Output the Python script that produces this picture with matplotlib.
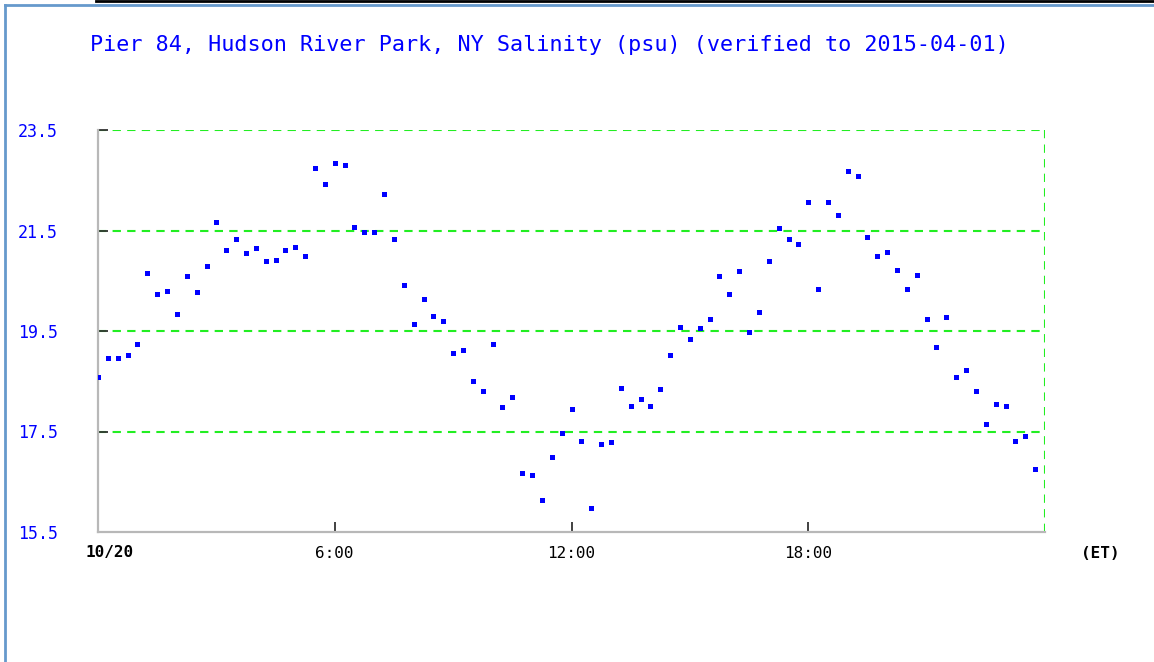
import numpy as np
import matplotlib
matplotlib.use("Agg")
import matplotlib.pyplot as plt
from matplotlib.lines import Line2D

# salinity readings every 15 minutes on 10/20 (psu)
salinity = [
    18.59, 18.96, 18.96, 19.02, 19.25, 20.66, 20.23, 20.29, 19.84, 20.59, 20.27, 20.79,
    21.67, 21.11, 21.34, 21.05, 21.15, 20.89, 20.92, 21.11, 21.18, 20.99, 22.75, 22.42,
    22.85, 22.81, 21.57, 21.47, 21.47, 22.22, 21.34, 20.42, 19.64, 20.13, 19.80, 19.70,
    19.06, 19.12, 18.50, 18.30, 19.25, 17.98, 18.18, 16.67, 16.63, 16.14, 17.00, 17.48,
    17.94, 17.32, 15.98, 17.26, 17.29, 18.37, 18.01, 18.14, 18.01, 18.34, 19.02, 19.58,
    19.35, 19.55, 19.74, 20.59, 20.23, 20.69, 19.48, 19.88, 20.89, 21.54, 21.34, 21.24,
    22.06, 20.33, 22.06, 21.80, 22.68, 22.58, 21.38, 20.99, 21.08, 20.72, 20.33, 20.62,
    19.74, 19.18, 19.77, 18.59, 18.72, 18.30, 17.65, 18.04, 18.01, 17.32, 17.41, 16.76,
]
step_minutes = 15
hours = np.arange(len(salinity)) * step_minutes / 60.0

y_ticks = [15.5, 17.5, 19.5, 21.5, 23.5]
x_ticks = [0, 6, 12, 18]
x_labels = ["10/20", "6:00", "12:00", "18:00"]

title = "Pier 84, Hudson River Park, NY Salinity (psu) (verified to 2015-04-01)"

mono = "DejaVu Sans Mono"
green = "#22ee22"
blue = "#0000ff"

fig = plt.figure(figsize=(11.54, 6.62), dpi=100)
ax = fig.add_axes([98 / 1154, 1 - 532 / 662, 947 / 1154, 402 / 662])

ax.plot(hours, salinity, linestyle="none", marker="s", markersize=3.6,
        color=blue, markeredgewidth=0, zorder=3)

ax.set_xlim(0, 24)
ax.set_ylim(15.5, 23.5)

# green dashed grid + top/right border
for v in y_ticks[1:]:
    ax.axhline(v, color=green, linestyle=(0, (4, 3)), linewidth=1.5, zorder=1)
ax.axvline(24, color=green, linestyle=(0, (4, 3)), linewidth=1.5, zorder=1)

for side in ["top", "right"]:
    ax.spines[side].set_visible(False)
for side in ["left", "bottom"]:
    ax.spines[side].set_color("#b8b8b8")
    ax.spines[side].set_linewidth(1.6)

ax.set_yticks(y_ticks)
ax.set_yticklabels([f"{v:.1f}" for v in y_ticks], fontfamily=mono,
                   fontsize=12, color=blue)
ax.tick_params(axis="y", direction="in", length=7, width=1.3, color="#333333",
               pad=29)

# date label sits a bit right of the origin, bold
ax.set_xticks(x_ticks)
ax.set_xticklabels([""] + x_labels[1:], fontfamily=mono, fontsize=11.5,
                   color="black")
ax.xaxis.get_major_ticks()[0].tick1line.set_visible(False)
ax.tick_params(axis="x", direction="in", length=7, width=1.3, color="#333333",
               pad=10)
ax.annotate(x_labels[0], xy=(x_ticks[0], 0), xycoords=("data", "axes fraction"),
            xytext=(8, -15), textcoords="offset points", fontfamily=mono,
            fontsize=11.5, fontweight="bold", ha="center", va="center")

ax.text(1100 / 1154, 1 - 553 / 662, "(ET)", transform=fig.transFigure,
        fontfamily=mono, fontsize=11.5, fontweight="bold",
        ha="center", va="center")

fig.text(90 / 1154, 1 - 45 / 662, title, fontfamily=mono, fontsize=15.7,
         color=blue, ha="left", va="center")

# page frame
fig.add_artist(Line2D([5 / 1154, 1], [1 - 5 / 662, 1 - 5 / 662],
                      transform=fig.transFigure, color="#6699cc", linewidth=2))
fig.add_artist(Line2D([5 / 1154, 5 / 1154], [0, 1 - 5 / 662],
                      transform=fig.transFigure, color="#6699cc", linewidth=2))
fig.add_artist(Line2D([96 / 1154, 1], [1 - 0.5 / 662, 1 - 0.5 / 662],
                      transform=fig.transFigure, color="black", linewidth=2))

fig.savefig("out.png", dpi=100)
